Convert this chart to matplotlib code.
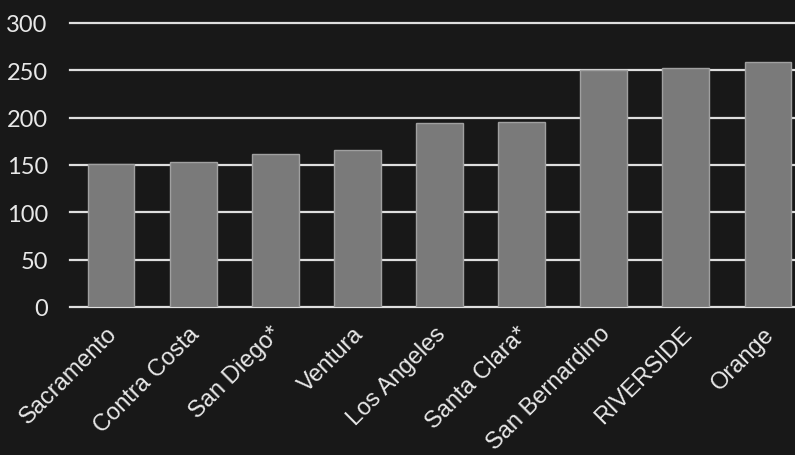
import matplotlib
matplotlib.use("Agg")
import matplotlib.pyplot as plt
import matplotlib.transforms as mtransforms

counties = ["Sacramento", "Contra Costa", "San Diego*", "Ventura", "Los Angeles",
            "Santa Clara*", "San Bernardino", "RIVERSIDE", "Orange"]
values = [151, 153, 162, 166, 194, 195, 250, 252, 259]
yticks = [0, 50, 100, 150, 200, 250, 300]

bg = "#181818"
fig = plt.figure(figsize=(7.95, 4.56), dpi=100, facecolor=bg)
ax = fig.add_axes([70/795, (456-308)/456, (809-70)/795, (308-24)/456], facecolor=bg)

ax.set_axisbelow(True)
ax.yaxis.grid(True, color="#dedede", linewidth=1.6)
ax.bar(range(len(counties)), values, width=0.57, color="#7a7a7a",
       edgecolor="#a0a0a0", linewidth=1.0, zorder=2)

ax.set_xlim(-0.5, len(counties) - 0.5)
ax.set_ylim(0, 300)
ax.set_yticks(yticks)
ax.set_yticklabels([str(v) for v in yticks], fontsize=17, color="#e8e8e8", family="Lato")
ax.set_xticks(range(len(counties)))
ax.set_xticklabels(counties, rotation=45, ha="right", va="top", rotation_mode="anchor",
                   fontsize=17, color="#e8e8e8", family="Liberation Sans")
ax.tick_params(axis="y", length=0, pad=16)
ax.tick_params(axis="x", length=0, pad=6)
offset = mtransforms.ScaledTranslation(-5/100, -7/100, fig.dpi_scale_trans)
for lab in ax.get_xticklabels():
    lab.set_transform(lab.get_transform() + offset)
for gl in ax.get_ygridlines():
    gl.set_clip_on(False)
for s in ax.spines.values():
    s.set_visible(False)

fig.savefig("out.png", dpi=100, facecolor=bg)
